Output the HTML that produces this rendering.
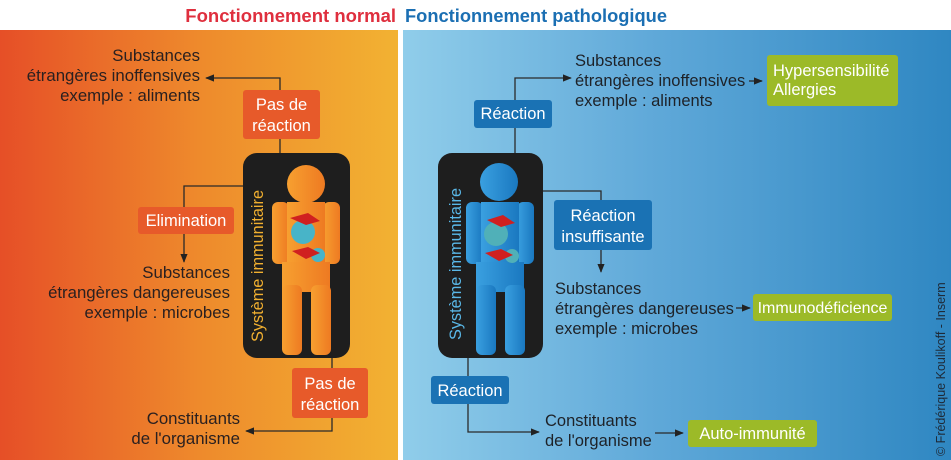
<!DOCTYPE html>
<html><head><meta charset="utf-8"><style>
html,body{margin:0;padding:0;background:#fff;}
svg{display:block;font-family:"Liberation Sans",Arial,sans-serif;}
</style></head><body>
<svg width="951" height="460" viewBox="0 0 951 460" xmlns="http://www.w3.org/2000/svg">
<defs>
<linearGradient id="gl" x1="0" x2="1" y1="0" y2="0"><stop offset="0" stop-color="#e64f27"/><stop offset="0.5" stop-color="#ee8a2c"/><stop offset="1" stop-color="#f2b232"/></linearGradient>
<linearGradient id="gr" x1="0" x2="1" y1="0" y2="0"><stop offset="0" stop-color="#90cdea"/><stop offset="0.45" stop-color="#60a9d9"/><stop offset="1" stop-color="#2f87c2"/></linearGradient>
<linearGradient id="bo" x1="0" x2="1"><stop offset="0" stop-color="#f7a030"/><stop offset="1" stop-color="#ee7a22"/></linearGradient>
<linearGradient id="bb" x1="0" x2="1"><stop offset="0" stop-color="#3aa0e0"/><stop offset="1" stop-color="#1a78c0"/></linearGradient>
<marker id="ar" viewBox="0 0 10 10" refX="9" refY="5" markerWidth="7" markerHeight="7" orient="auto-start-reverse"><path d="M0,1 L10,5 L0,9 z" fill="#222"/></marker>
</defs>
<rect x="0" y="0" width="951" height="460" fill="#fff"/>
<rect x="0" y="30" width="398" height="430" fill="url(#gl)"/>
<rect x="403" y="30" width="548" height="430" fill="url(#gr)"/>
<text x="396" y="22" text-anchor="end" font-size="18.5" font-weight="bold" fill="#df2f3e">Fonctionnement normal</text>
<text x="405" y="22" font-size="18.3" font-weight="bold" fill="#1b6fb3">Fonctionnement pathologique</text>

<g stroke="#2a2a2a" stroke-width="1.3" fill="none">
<path d="M280,153 V78 H206" marker-end="url(#ar)"/>
<path d="M243,186 H184 V262" marker-end="url(#ar)"/>
<path d="M332,357 V431 H246" marker-end="url(#ar)"/>
</g>
<g>
<rect x="243" y="153" width="107" height="205" rx="14" fill="#1e1e1e"/>
<circle cx="306" cy="184" r="19" fill="url(#bo)"/>
<rect x="272" y="202" width="17" height="62" rx="6" fill="url(#bo)"/>
<rect x="323" y="202" width="17" height="62" rx="6" fill="url(#bo)"/>
<rect x="287" y="202" width="38" height="90" fill="url(#bo)"/>
<rect x="282" y="262" width="48" height="30" fill="url(#bo)"/>
<rect x="282" y="285" width="20" height="70" rx="6" fill="url(#bo)"/>
<rect x="311" y="285" width="20" height="70" rx="6" fill="url(#bo)"/>
<circle cx="303" cy="232" r="12" fill="#48b4c8"/>
<circle cx="318" cy="255" r="7" fill="#48b4c8"/>
<path d="M290,218 l18,-5 l12,8 l-14,4 z" fill="#d02020"/>
<path d="M292,251 l16,-4 l12,6 l-14,6 z" fill="#d02020"/>
</g>
<text transform="translate(263,342) rotate(-90)" font-size="16.3" fill="#f2b030">Système immunitaire</text>
<rect x="243" y="90" width="77" height="49" rx="3" fill="#e75a2a"/>
<text x="281.5" y="110" text-anchor="middle" font-size="16.5" fill="#fff">Pas de</text>
<text x="281.5" y="131" text-anchor="middle" font-size="16.5" fill="#fff">réaction</text>
<rect x="138" y="207" width="96" height="27" rx="3" fill="#e75a2a"/>
<text x="186" y="226" text-anchor="middle" font-size="16.5" fill="#fff">Elimination</text>
<rect x="292" y="368" width="76" height="50" rx="3" fill="#e75a2a"/>
<text x="330" y="389" text-anchor="middle" font-size="16.5" fill="#fff">Pas de</text>
<text x="330" y="410" text-anchor="middle" font-size="16.5" fill="#fff">réaction</text>
<g font-size="16.8" fill="#2a2020" text-anchor="end">
<text x="200" y="61">Substances</text>
<text x="200" y="81">étrangères inoffensives</text>
<text x="200" y="101">exemple : aliments</text>
<text x="230" y="278">Substances</text>
<text x="230" y="298">étrangères dangereuses</text>
<text x="230" y="318">exemple : microbes</text>
<text x="240" y="424">Constituants</text>
<text x="240" y="444">de l'organisme</text>
</g>

<g stroke="#2a2a2a" stroke-width="1.3" fill="none">
<path d="M515,153 V78 H571" marker-end="url(#ar)"/>
<path d="M543,191 H601 V272" marker-end="url(#ar)"/>
<path d="M468,357 V432 H539" marker-end="url(#ar)"/>
<path d="M749,81 H762" marker-end="url(#ar)"/>
<path d="M736,308 H750" marker-end="url(#ar)"/>
<path d="M655,433 H683" marker-end="url(#ar)"/>
</g>
<g transform="translate(195,0)">
<rect x="243" y="153" width="105" height="205" rx="14" fill="#1e1e1e"/>
<circle cx="304" cy="182" r="19" fill="url(#bb)"/>
<rect x="271" y="202" width="17" height="62" rx="6" fill="url(#bb)"/>
<rect x="322" y="202" width="17" height="62" rx="6" fill="url(#bb)"/>
<rect x="286" y="202" width="38" height="90" fill="url(#bb)"/>
<rect x="281" y="262" width="48" height="30" fill="url(#bb)"/>
<rect x="281" y="285" width="20" height="70" rx="6" fill="url(#bb)"/>
<rect x="310" y="285" width="20" height="70" rx="6" fill="url(#bb)"/>
<circle cx="301" cy="234" r="12" fill="#50b0b8"/>
<circle cx="317" cy="256" r="7" fill="#50b0b8"/>
<path d="M292,220 l16,-5 l12,8 l-14,4 z" fill="#d02020"/>
<path d="M290,253 l16,-4 l12,6 l-14,6 z" fill="#d02020"/>
</g>
<text transform="translate(461,340) rotate(-90)" font-size="16.3" fill="#5ab8e8">Système immunitaire</text>
<rect x="474" y="100" width="78" height="28" rx="3" fill="#1a72b4"/>
<text x="513" y="119" text-anchor="middle" font-size="16.5" fill="#fff">Réaction</text>
<rect x="554" y="200" width="98" height="50" rx="3" fill="#1a72b4"/>
<text x="603" y="221" text-anchor="middle" font-size="16.5" fill="#fff">Réaction</text>
<text x="603" y="242" text-anchor="middle" font-size="16.5" fill="#fff">insuffisante</text>
<rect x="431" y="376" width="78" height="28" rx="3" fill="#1a72b4"/>
<text x="470" y="396" text-anchor="middle" font-size="16.5" fill="#fff">Réaction</text>
<g font-size="16.5" fill="#1e2228">
<text x="575" y="66">Substances</text>
<text x="575" y="86">étrangères inoffensives</text>
<text x="575" y="106">exemple : aliments</text>
<text x="555" y="294">Substances</text>
<text x="555" y="314">étrangères dangereuses</text>
<text x="555" y="334">exemple : microbes</text>
<text x="545" y="426">Constituants</text>
<text x="545" y="446">de l'organisme</text>
</g>
<rect x="767" y="55" width="131" height="51" rx="3" fill="#9cba28"/>
<text x="773" y="76" font-size="16.5" fill="#fff">Hypersensibilité</text>
<text x="773" y="95" font-size="16.5" fill="#fff">Allergies</text>
<rect x="753" y="294" width="139" height="27" rx="3" fill="#9cba28"/>
<text x="822.5" y="313" text-anchor="middle" font-size="16" fill="#fff">Immunodéficience</text>
<rect x="688" y="420" width="129" height="27" rx="3" fill="#9cba28"/>
<text x="752.5" y="439" text-anchor="middle" font-size="16.5" fill="#fff">Auto-immunité</text>
<text transform="translate(945,456) rotate(-90)" font-size="12.5" fill="#1e2a38">© Frédérique Koulikoff - Inserm</text>
</svg>
</body></html>
